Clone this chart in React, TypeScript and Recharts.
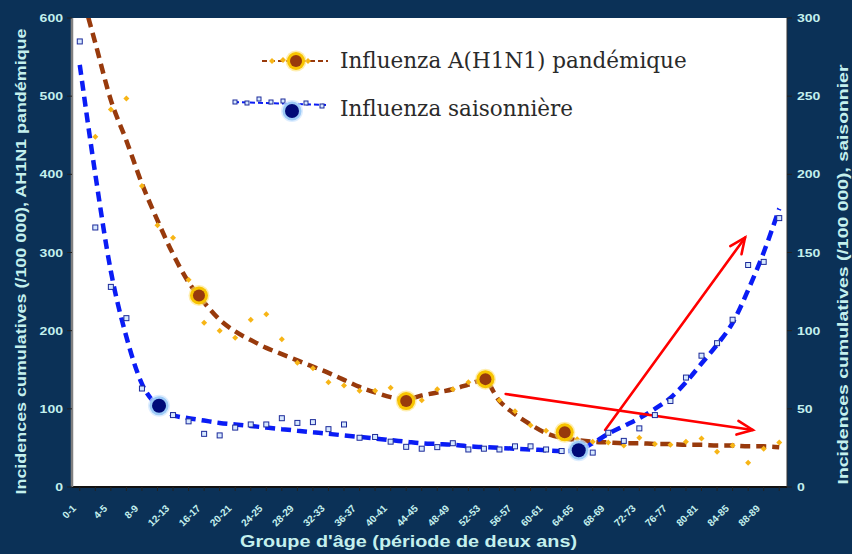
import {
  ComposedChart,
  Line,
  Scatter,
  XAxis,
  YAxis,
  CartesianGrid,
  ReferenceLine,
  Legend,
} from "recharts";

// age groups (two-year bands), one label shown every other band
const ageGroups = [
  "0-1", "2-3", "4-5", "6-7", "8-9", "10-11", "12-13", "14-15", "16-17", "18-19",
  "20-21", "22-23", "24-25", "26-27", "28-29", "30-31", "32-33", "34-35", "36-37", "38-39",
  "40-41", "42-43", "44-45", "46-47", "48-49", "50-51", "52-53", "54-55", "56-57", "58-59",
  "60-61", "62-63", "64-65", "66-67", "68-69", "70-71", "72-73", "74-75", "76-77", "78-79",
  "80-81", "82-83", "84-85", "86-87", "88-89", "90+",
];

// pandemic A(H1N1), left axis
const pandemicValues = [
  null, 448, 483, 497, 385, 335, 319, 265, 210, 200,
  191, 214, 221, 189, 159, 152, 134, 130, 123, 123,
  127, 111, 111, 125, 125, 134, 138, 111, 97, 79,
  72, 70, 61, 58, 57, 53, 63, 55, 54, 58,
  62, 45, 53, 31, 49, 57,
];
const pandemicTrend = [
  640, 568, 495, 443, 388, 341, 298, 262, 236, 214,
  199, 188, 178, 170, 162, 154, 146, 137, 128, 121,
  115, 112, 117, 121, 125, 131, 137, 110, 93, 80,
  69, 63, 60, 58, 57, 56, 56, 55, 55, 54,
  54, 53, 53, 52, 52, 51,
];
const pandemicMarkX = [7.67, 21, 26.1, 31.2];
const pandemicMarkY = [245, 110, 138, 70];

// seasonal influenza, right axis
const seasonalValues = [
  285, 166, 128, 108, 63, 52, 46, 42, 34, 33,
  38, 40, 40, 44, 41, 41.5, 37, 40, 31.5, 32,
  29, 25.7, 24.5, 25.5, 28, 24, 24.5, 24, 26, 26,
  24, 23, 23.5, 22, 34.7, 29.5, 37.5, 46, 55, 70,
  84, 92, 107, 142, 144, 172,
];
const seasonalTrend = [
  270, 200, 138, 96, 66, 52, 46, 44, 42.5, 41,
  40, 39, 38, 37, 36, 35, 34, 33, 32, 31,
  30, 29, 28, 27.5, 27, 26, 25.5, 25, 24.5, 24,
  23.5, 23, 23.5, 28, 34, 39, 44, 50, 57, 67,
  79, 91, 105, 126, 150, 178,
];
const seasonalMarkX = [5.1, 32.1];
const seasonalMarkY = [52, 23.5];

const leftTicks = [0, 100, 200, 300, 400, 500, 600];
const rightTicks = [0, 50, 100, 150, 200, 250, 300];

// red annotation arrows (index, left-axis value)
const arrowUp = [{ x: 33.8, y: 73 }, { x: 42.8, y: 319 }];
const arrowDown = [{ x: 27.4, y: 119 }, { x: 43.3, y: 73 }];

const rows = (vals: (number | null)[]) =>
  vals.map((y, i) => ({ x: i, y })).filter((d) => d.y != null);
const pairs = (xs: number[], ys: number[]) => xs.map((x, i) => ({ x, y: ys[i] }));

const pandemicPoints = rows(pandemicValues);
const pandemicLine = rows(pandemicTrend);
const pandemicMarks = pairs(pandemicMarkX, pandemicMarkY);
const seasonalPoints = rows(seasonalValues);
const seasonalLine = rows(seasonalTrend);
const seasonalMarks = pairs(seasonalMarkX, seasonalMarkY);

const BG = "#0b3157";
const AXIS_TEXT = "#c4f0ee";
const BROWN = "#983a0c";
const GOLD = "#f7b516";
const BLUE = "#0a1cf5";
const SANS = "'Liberation Sans', Arial, sans-serif";

const Diamond = (p: any) => (
  <polygon
    points={`${p.cx},${p.cy - 3} ${p.cx + 3},${p.cy} ${p.cx},${p.cy + 3} ${p.cx - 3},${p.cy}`}
    fill={GOLD}
  />
);

const SmallSquare = (p: any) => (
  <rect x={p.cx - 2.5} y={p.cy - 2.5} width={5} height={5} fill="#d6e8ff" stroke="#1c2a9a" strokeWidth={1} />
);

const GoldDot = ({ cx, cy }: any) => (
  <g>
    <circle cx={cx} cy={cy} r={10.5} fill="#ffe27a" opacity={0.6} />
    <circle cx={cx} cy={cy} r={9} fill="#f8c400" />
    <circle cx={cx} cy={cy} r={6} fill={BROWN} />
  </g>
);

const NavyDot = ({ cx, cy }: any) => (
  <g>
    <circle cx={cx} cy={cy} r={11} fill="#cfe6ff" opacity={0.7} />
    <circle cx={cx} cy={cy} r={9.5} fill="#9ccaf6" />
    <circle cx={cx} cy={cy} r={7} fill="#000a78" />
  </g>
);

const Arrow = (p: any) => {
  const { x1, y1, x2, y2 } = p;
  const a = Math.atan2(y2 - y1, x2 - x1);
  const len = 17;
  const s = 0.42;
  const ax = x2 - len * Math.cos(a - s);
  const ay = y2 - len * Math.sin(a - s);
  const bx = x2 - len * Math.cos(a + s);
  const by = y2 - len * Math.sin(a + s);
  return (
    <g stroke="#ff0000" strokeWidth={2.6} fill="none" strokeLinecap="round">
      <line x1={x1} y1={y1} x2={x2} y2={y2} />
      <polyline points={`${ax},${ay} ${x2},${y2} ${bx},${by}`} />
    </g>
  );
};

const AgeTick = ({ x, y, payload }: any) => {
  const i = payload.value;
  if (i % 2 !== 0) return <g />;
  const ex = x - 3;
  const ey = y + 16;
  return (
    <text
      x={ex}
      y={ey}
      transform={`rotate(-45 ${ex} ${ey})`}
      textAnchor="end"
      fontFamily={SANS}
      fontWeight="bold"
      fontSize={10}
      fill={AXIS_TEXT}
    >
      {ageGroups[i]}
    </text>
  );
};

// wide, flat tick digits like the original export
const ValueTick = ({ x, y, payload, textAnchor }: any) => {
  const s = String(payload.value);
  return (
    <text
      x={x}
      y={y}
      dy={4}
      textAnchor={textAnchor}
      fontFamily={SANS}
      fontWeight="bold"
      fontSize={11}
      textLength={s.length * 7.8}
      lengthAdjust="spacingAndGlyphs"
      fill={AXIS_TEXT}
    >
      {s}
    </text>
  );
};

const LegendBox = () => (
  <div style={{ position: "relative", width: 480, height: 100 }}>
    <svg width={110} height={100} style={{ position: "absolute", left: 0, top: 0 }}>
      <line x1={32} y1={23} x2={98} y2={23} stroke={BROWN} strokeWidth={2} strokeDasharray="5 3" />
      <polygon points="42,20 45,23 42,26 39,23" fill={GOLD} />
      <polygon points="53,19 56,22 53,25 50,22" fill={GOLD} />
      <polygon points="78,20 81,23 78,26 75,23" fill={GOLD} />
      <GoldDot cx={66} cy={23} />
      <line x1={4} y1={64} x2={96} y2={67} stroke={BLUE} strokeWidth={2} strokeDasharray="5 3" />
      <rect x={3} y={62} width={4} height={4} fill="#d6e8ff" stroke="#1c2a9a" />
      <rect x={15} y={63} width={4} height={4} fill="#d6e8ff" stroke="#1c2a9a" />
      <rect x={27} y={59} width={4} height={4} fill="#d6e8ff" stroke="#1c2a9a" />
      <rect x={39} y={62} width={4} height={4} fill="#d6e8ff" stroke="#1c2a9a" />
      <rect x={51} y={61} width={4} height={4} fill="#d6e8ff" stroke="#1c2a9a" />
      <rect x={74} y={63} width={4} height={4} fill="#d6e8ff" stroke="#1c2a9a" />
      <rect x={90} y={66} width={4} height={4} fill="#d6e8ff" stroke="#1c2a9a" />
      <NavyDot cx={62} cy={73} />
    </svg>
    <div
      style={{
        position: "absolute",
        left: 110,
        top: 8,
        fontFamily: "'DejaVu Serif', 'Liberation Serif', serif",
        fontSize: 21.5,
        color: "#2a2a2a",
        whiteSpace: "nowrap",
        lineHeight: "30px",
      }}
    >
      <div>Influenza A(H1N1) pandémique</div>
      <div style={{ marginTop: 18 }}>Influenza saisonnière</div>
    </div>
  </div>
);

const LeftTitle = ({ viewBox }: any) => {
  const x = viewBox.x + 20;
  const y = viewBox.y + viewBox.height / 2 + 9;
  return (
    <text
      x={x}
      y={y}
      transform={`rotate(-90 ${x} ${y})`}
      textAnchor="middle"
      dominantBaseline="central"
      fontFamily={SANS}
      fontWeight="bold"
      fontSize={15}
      textLength={466}
      lengthAdjust="spacingAndGlyphs"
      fill={AXIS_TEXT}
    >
      Incidences cumulatives (/100 000), AH1N1 pandémique
    </text>
  );
};

const RightTitle = ({ viewBox }: any) => {
  const x = viewBox.x + 55;
  const y = viewBox.y + viewBox.height / 2 + 22;
  return (
    <text
      x={x}
      y={y}
      transform={`rotate(-90 ${x} ${y})`}
      textAnchor="middle"
      dominantBaseline="central"
      fontFamily={SANS}
      fontWeight="bold"
      fontSize={15}
      textLength={420}
      lengthAdjust="spacingAndGlyphs"
      fill={AXIS_TEXT}
    >
      Incidences cumulatives (/100 000), saisonnier
    </text>
  );
};

const BottomTitle = ({ viewBox }: any) => (
  <text
    x={viewBox.x + viewBox.width / 2 - 21}
    y={viewBox.y + 54}
    textAnchor="middle"
    dominantBaseline="central"
    fontFamily={SANS}
    fontWeight="bold"
    fontSize={16}
    textLength={337}
    lengthAdjust="spacingAndGlyphs"
    fill={AXIS_TEXT}
  >
    Groupe d'âge (période de deux ans)
  </text>
);

export default function App() {
  return (
    <div style={{ width: 852, height: 554, background: BG }}>
      <style>{"body{margin:0}"}</style>
      <ComposedChart width={852} height={554} margin={{ top: 18, right: 0, bottom: 0, left: 0 }}>
        <CartesianGrid yAxisId="left" horizontal={false} vertical={false} fill="#ffffff" />
        <XAxis
          dataKey="x"
          type="number"
          domain={[-0.5, 45.5]}
          allowDataOverflow
          ticks={ageGroups.map((_, i) => i)}
          interval={0}
          tick={<AgeTick />}
          tickSize={4}
          tickLine={{ stroke: "#222" }}
          axisLine={{ stroke: "#111", strokeWidth: 2 }}
          height={67}
          label={{ content: <BottomTitle /> }}
        />
        <YAxis
          yAxisId="left"
          dataKey="y"
          type="number"
          domain={[0, 600]}
          allowDataOverflow
          ticks={leftTicks}
          interval={0}
          width={72}
          tick={<ValueTick />}
          tickSize={5}
          tickMargin={4}
          tickLine={{ stroke: "#222" }}
          axisLine={{ stroke: "#808080", strokeWidth: 2.5 }}
          label={{ content: <LeftTitle /> }}
        />
        <YAxis
          yAxisId="right"
          orientation="right"
          dataKey="y"
          type="number"
          domain={[0, 300]}
          allowDataOverflow
          ticks={rightTicks}
          interval={0}
          width={65}
          tick={<ValueTick />}
          tickSize={5}
          tickMargin={5}
          tickLine={{ stroke: "#222" }}
          axisLine={{ stroke: "#333" }}
          label={{ content: <RightTitle /> }}
        />
        <Scatter yAxisId="left" data={pandemicPoints} dataKey="y" shape={Diamond} isAnimationActive={false} />
        <Scatter yAxisId="right" data={seasonalPoints} dataKey="y" shape={SmallSquare} isAnimationActive={false} />
        <Line
          yAxisId="left"
          data={pandemicLine}
          dataKey="y"
          type="monotone"
          stroke={BROWN}
          strokeWidth={4.5}
          strokeDasharray="10 6"
          dot={false}
          activeDot={false}
          isAnimationActive={false}
        />
        <Line
          yAxisId="right"
          data={seasonalLine}
          dataKey="y"
          type="monotone"
          stroke={BLUE}
          strokeWidth={4.5}
          strokeDasharray="10 6"
          dot={false}
          activeDot={false}
          isAnimationActive={false}
        />
        <Scatter yAxisId="left" data={pandemicMarks} dataKey="y" shape={GoldDot} isAnimationActive={false} />
        <Scatter yAxisId="right" data={seasonalMarks} dataKey="y" shape={NavyDot} isAnimationActive={false} />
        <ReferenceLine yAxisId="left" segment={arrowUp} shape={Arrow} ifOverflow="visible" />
        <ReferenceLine yAxisId="left" segment={arrowDown} shape={Arrow} ifOverflow="visible" />
        <Legend
          layout="vertical"
          align="center"
          verticalAlign="middle"
          content={<LegendBox />}
          wrapperStyle={{ top: 38, left: 230, width: 480, height: 100 }}
        />
      </ComposedChart>
    </div>
  );
}
